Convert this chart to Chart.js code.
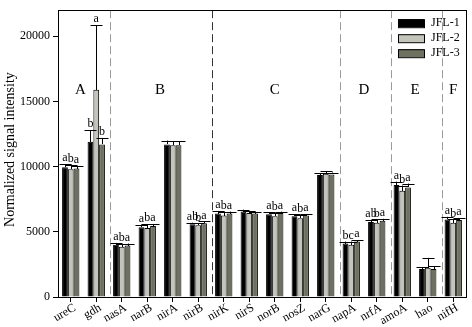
<!DOCTYPE html>
<html>
<head>
<meta charset="utf-8">
<script src="https://cdn.jsdelivr.net/npm/chart.js@4/dist/chart.umd.min.js"></script>
<style>
html, body { margin: 0; padding: 0; background: #fff; }
</style>
</head>
<body>
<canvas id="chart" width="472" height="327"></canvas>
<script>
// categories
var genes = ['ureC', 'gdh', 'nasA', 'narB', 'nirA', 'nirB', 'nirK', 'nirS', 'norB', 'nosZ', 'narG', 'napA', 'nrfA', 'amoA', 'hao', 'nifH'];
var seriesNames = ['JFL-1', 'JFL-2', 'JFL-3'];

// series values (normalized signal intensity)
var jfl1 = [9950, 11900, 4000, 5350, 11700, 5580, 6400, 6550, 6350, 6200, 9350, 4100, 5750, 8600, 2150, 5950];
var jfl2 = [9800, 15900, 3850, 5300, 11650, 5500, 6250, 6450, 6200, 6050, 9450, 4000, 5700, 8150, 2250, 5700];
var jfl3 = [9850, 11700, 3950, 5450, 11650, 5650, 6400, 6400, 6450, 6250, 9400, 4250, 5850, 8400, 2150, 5900];

// error bar (standard deviation)
var err1 = [250, 900, 150, 200, 300, 120, 200, 150, 150, 150, 150, 150, 150, 250, 150, 200];
var err2 = [350, 4950, 200, 300, 300, 150, 300, 150, 250, 250, 200, 250, 250, 400, 750, 250];
var err3 = [200, 500, 150, 150, 300, 150, 150, 150, 100, 100, 150, 100, 150, 300, 200, 150];

// significance letters
var sig1 = ['a', 'b', 'a', 'a', '', 'ab', 'a', '', 'a', 'a', '', 'b', 'ab', 'a', '', 'a'];
var sig2 = ['b', 'a', 'b', 'b', '', 'b', 'b', '', 'b', 'b', '', 'c', 'b', 'b', '', 'b'];
var sig3 = ['a', 'b', 'a', 'a', '', 'a', 'a', '', 'a', 'a', '', 'a', 'a', 'a', '', 'a'];

// functional groups: label and index of first gene in it
var groupNames = ['A', 'B', 'C', 'D', 'E', 'F'];
var groupStarts = [0, 2, 6, 11, 13, 15];

var yTicks = [0, 5000, 10000, 15000, 20000];
var yMax = 22000;

var colors = ['#000000', '#c3c5bb', '#6e7060'];
var serif = "'Liberation Serif', 'DejaVu Serif', serif";

var extras = {
	id: 'extras',
	beforeDatasetsDraw: function( chart ){
		var c = chart.ctx, area = chart.chartArea, x = chart.scales.x;
		c.save();
		c.lineWidth = 1;
		c.setLineDash([8, 4]);
		for (var i = 1; i < groupStarts.length; i++) {
			var px = Math.round((x.getPixelForValue(groupStarts[i] - 1) + x.getPixelForValue(groupStarts[i])) / 2) + 1.5;
			c.strokeStyle = (i === 2) ? '#333333' : '#9a9a9a';
			c.beginPath();
			c.moveTo(px, area.top);
			c.lineTo(px, area.bottom);
			c.stroke();
		}
		c.restore();
	},
	afterDatasetsDraw: function( chart ){
		var c = chart.ctx, area = chart.chartArea, x = chart.scales.x, y = chart.scales.y;
		c.save();

		// error bars and letters
		chart.data.datasets.forEach(function( ds, d ){
			var meta = chart.getDatasetMeta(d);
			meta.data.forEach(function( bar, i ){
				var top = y.getPixelForValue(ds.data[i] + ds.errs[i]);
				var bx = Math.round(bar.x) + 0.5;
				c.strokeStyle = '#000';
				c.lineWidth = 1;
				c.beginPath();
				c.moveTo(bx, Math.round(bar.y));
				c.lineTo(bx, top);
				c.moveTo(bx - 6, Math.round(top) + 0.5);
				c.lineTo(bx + 6, Math.round(top) + 0.5);
				c.stroke();
				if (ds.marks[i]) {
					c.fillStyle = '#000';
					c.font = '12px ' + serif;
					c.textAlign = 'center';
					c.textBaseline = 'bottom';
					c.fillText(ds.marks[i], bar.x, top);
				}
			});
		});

		// rotated category labels
		c.font = '12px ' + serif;
		c.fillStyle = '#000';
		c.textAlign = 'right';
		c.textBaseline = 'middle';
		genes.forEach(function( name, i ){
			c.save();
			c.translate(x.getPixelForValue(i) + 4, area.bottom + 10);
			c.rotate(-30 * Math.PI / 180);
			c.fillText(name, 0, 0);
			c.restore();
		});

		// group labels
		var bounds = [area.left];
		for (var g = 1; g < groupStarts.length; g++) {
			bounds.push((x.getPixelForValue(groupStarts[g] - 1) + x.getPixelForValue(groupStarts[g])) / 2);
		}
		bounds.push(area.right);
		c.font = '15px ' + serif;
		c.textAlign = 'center';
		c.textBaseline = 'middle';
		groupNames.forEach(function( name, g ){
			c.fillText(name, (bounds[g] + bounds[g + 1]) / 2 - (g === 0 ? 3 : 0), area.top + 80);
		});

		// legend
		c.font = '12px ' + serif;
		c.textAlign = 'left';
		seriesNames.forEach(function( name, s ){
			var ly = area.top + 9 + s * 15;
			c.fillStyle = colors[s];
			c.fillRect(398, ly, 26, 8);
			c.strokeStyle = '#000';
			c.strokeRect(398.5, ly + 0.5, 26, 8);
			c.fillStyle = '#000';
			c.fillText(name, 431, ly + 4);
		});

		// frame
		c.strokeStyle = '#000';
		c.lineWidth = 1;
		c.strokeRect(Math.round(area.left) + 0.5, Math.round(area.top) + 0.5, Math.round(area.right - area.left), Math.round(area.bottom - area.top));

		// y title
		c.translate(10, (area.top + area.bottom) / 2 - 4);
		c.rotate(-Math.PI / 2);
		c.font = '14px ' + serif;
		c.textAlign = 'center';
		c.textBaseline = 'middle';
		c.fillText('Normalized signal intensity', 0, 0);
		c.restore();
	}
};

var series = [jfl1, jfl2, jfl3];
var errs = [err1, err2, err3];
var sigs = [sig1, sig2, sig3];

var datasets = series.map(function( values, s ){
	return {
		label          : seriesNames[s],
		data           : values,
		errs           : errs[s],
		marks          : sigs[s],
		backgroundColor: colors[s],
		borderColor    : '#000',
		borderWidth    : 1,
		barPercentage  : 1,
		categoryPercentage: 0.68
	};
});

new Chart(document.getElementById('chart').getContext('2d'), {
	type: 'bar',
	data: { labels: genes, datasets: datasets },
	options: {
		responsive: false,
		animation: false,
		devicePixelRatio: 1,
		layout: { padding: { left: 0, right: 6, top: 3, bottom: 0 } },
		plugins: { legend: { display: false }, tooltip: { enabled: false } },
		scales: {
			x: {
				afterFit: function( s ){ s.height = 30; },
				grid: { drawOnChartArea: false, offset: false, tickLength: 5, color: '#000' },
				border: { display: false },
				ticks: { display: false }
			},
			y: {
				min: 0,
				max: yMax,
				afterFit: function( s ){ s.width = 58; },
				afterBuildTicks: function( s ){ s.ticks = yTicks.map(function( v ){ return { value: v }; }); },
				grid: { drawOnChartArea: false, tickLength: 5, color: '#000' },
				border: { display: false },
				ticks: {
					padding: 3, color: '#000', font: { family: serif, size: 12 },
					callback: function( v ){ return String(v); }
				}
			}
		}
	},
	plugins: [extras]
});
</script>
</body>
</html>
